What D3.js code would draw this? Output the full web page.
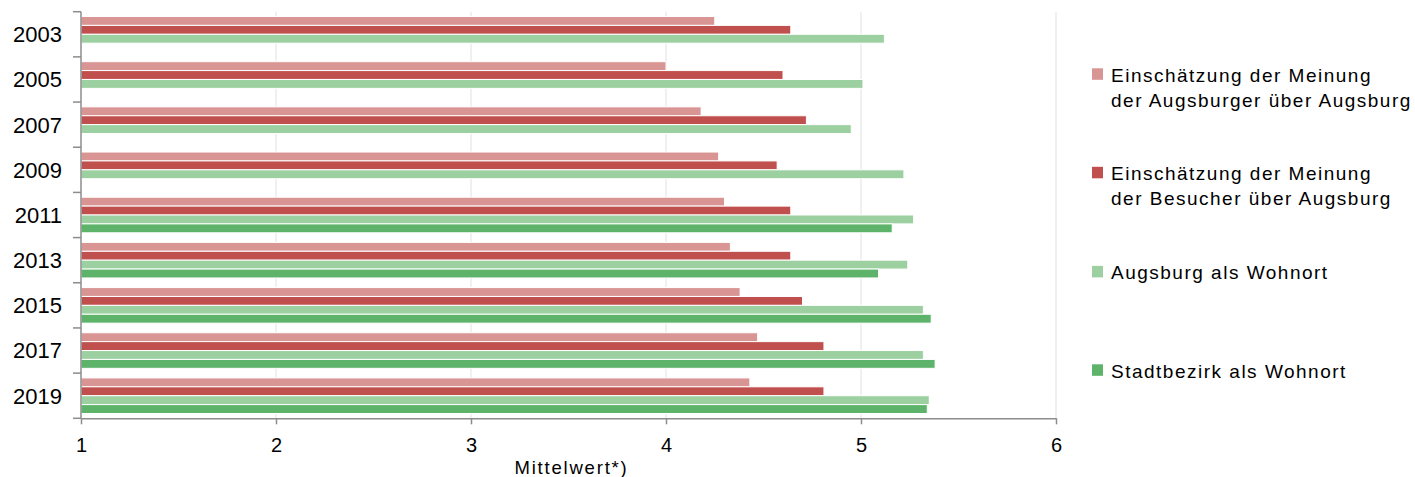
<!DOCTYPE html>
<html>
<head>
<meta charset="utf-8">
<script src="https://cdn.jsdelivr.net/npm/d3@7"></script>
<style>
  html, body { margin: 0; padding: 0; background: #fff; }
  svg { display: block; font-family: "Liberation Sans", Arial, sans-serif; }
</style>
</head>
<body>
<svg id="chart" width="1415" height="477"></svg>
<script>
const years = ["2003", "2005", "2007", "2009", "2011", "2013", "2015", "2017", "2019"];
const seriesNames = [
  "Einschätzung der Meinung\nder Augsburger über Augsburg",
  "Einschätzung der Meinung\nder Besucher über Augsburg",
  "Augsburg als Wohnort",
  "Stadtbezirk als Wohnort"
];
const augsburgerMeinung  = [4.25, 4.00, 4.18, 4.27, 4.30, 4.33, 4.38, 4.47, 4.43];
const besucherMeinung    = [4.64, 4.60, 4.72, 4.57, 4.64, 4.64, 4.70, 4.81, 4.81];
const augsburgWohnort    = [5.12, 5.01, 4.95, 5.22, 5.27, 5.24, 5.32, 5.32, 5.35];
const stadtbezirkWohnort = [null, null, null, null, 5.16, 5.09, 5.36, 5.38, 5.34];
const seriesColors = ["#d99594", "#c0504d", "#9dd0a1", "#5db36a"];
const xTicks = [1, 2, 3, 4, 5, 6];
const axisTitle = "Mittelwert*)";

const seriesValues = [augsburgerMeinung, besucherMeinung, augsburgWohnort, stadtbezirkWohnort];

const svg = d3.select("#chart");

const x = d3.scaleLinear().domain([1, 6]).range([81, 1056]);
const y0 = d3.scaleBand().domain(years).range([11.7, 418.3]).padding(0);
const y1 = d3.scaleBand().domain(d3.range(seriesNames.length))
  .range([0, y0.bandwidth()]).paddingOuter(0.54).paddingInner(0);
const color = d3.scaleOrdinal().domain(d3.range(seriesNames.length)).range(seriesColors);

// gridlines
svg.append("g").selectAll("line")
  .data(xTicks.filter(t => t > 1))
  .join("line")
  .attr("x1", d => x(d)).attr("x2", d => x(d))
  .attr("y1", y0.range()[0]).attr("y2", y0.range()[1])
  .attr("stroke", "#ebebeb").attr("stroke-width", 1.5);

// bars
const groups = svg.append("g").selectAll("g")
  .data(years)
  .join("g")
  .attr("transform", d => `translate(0,${y0(d)})`);

groups.selectAll("rect")
  .data((d, i) => seriesValues.map((s, k) => ({ k, v: s[i] })).filter(e => e.v != null))
  .join("rect")
  .attr("x", x(1))
  .attr("y", d => y1(d.k))
  .attr("width", d => x(d.v) - x(1))
  .attr("height", y1.bandwidth())
  .attr("fill", d => color(d.k))
  .attr("stroke", "#ffffff")
  .attr("stroke-width", 1);

// x axis
const xAxis = svg.append("g")
  .attr("transform", `translate(0,${y0.range()[1]})`)
  .call(d3.axisBottom(x).tickValues(xTicks).tickFormat(d3.format("d")).tickSize(6).tickSizeOuter(0));
xAxis.select(".domain").attr("stroke", "#8c8c8c").attr("stroke-width", 1.5);
xAxis.selectAll(".tick line").attr("stroke", "#8c8c8c").attr("stroke-width", 1.5);
xAxis.selectAll(".tick text")
  .attr("y", 33.4).attr("dy", 0)
  .attr("fill", "#000")
  .style("font-size", "20px")
  .style("font-family", "'Liberation Sans', Arial, sans-serif");

// y axis
const yAxisG = svg.append("g");
yAxisG.append("line")
  .attr("x1", x(1)).attr("x2", x(1))
  .attr("y1", y0.range()[0]).attr("y2", y0.range()[1])
  .attr("stroke", "#8c8c8c").attr("stroke-width", 1.5);
const boundaries = years.map(d => y0(d)).concat([y0.range()[1]]);
yAxisG.selectAll("line.tick")
  .data(boundaries)
  .join("line")
  .attr("class", "tick")
  .attr("x1", x(1) - 8).attr("x2", x(1))
  .attr("y1", d => d).attr("y2", d => d)
  .attr("stroke", "#8c8c8c").attr("stroke-width", 1.5);
yAxisG.selectAll("text")
  .data(years)
  .join("text")
  .attr("x", 62)
  .attr("y", d => y0(d) + y0.bandwidth() / 2)
  .attr("dy", "0.36em")
  .attr("text-anchor", "end")
  .attr("fill", "#000")
  .style("font-size", "22px")
  .text(d => d);

// axis title
svg.append("text")
  .attr("x", (x.range()[0] + x.range()[1]) / 2 + 3)
  .attr("y", 474)
  .attr("text-anchor", "middle")
  .attr("fill", "#000")
  .style("font-size", "18.5px")
  .style("letter-spacing", "1.8px")
  .text(axisTitle);

// legend
const legendBaselines = [81.7, 180.2, 279.3, 377.7];
const legend = svg.append("g").selectAll("g")
  .data(seriesNames)
  .join("g")
  .attr("transform", (d, i) => `translate(1092,${legendBaselines[i]})`);

legend.append("rect")
  .attr("x", 0).attr("y", -13.4)
  .attr("width", 11).attr("height", 11.5)
  .attr("fill", (d, i) => color(i));

legend.append("text")
  .attr("x", 19).attr("y", 0)
  .attr("fill", "#000")
  .style("font-size", "19px")
  .style("letter-spacing", "1.5px")
  .selectAll("tspan")
  .data(d => d.split("\n"))
  .join("tspan")
  .attr("x", 19)
  .attr("dy", (d, i) => i === 0 ? 0 : 25)
  .text(d => d);
</script>
</body>
</html>
